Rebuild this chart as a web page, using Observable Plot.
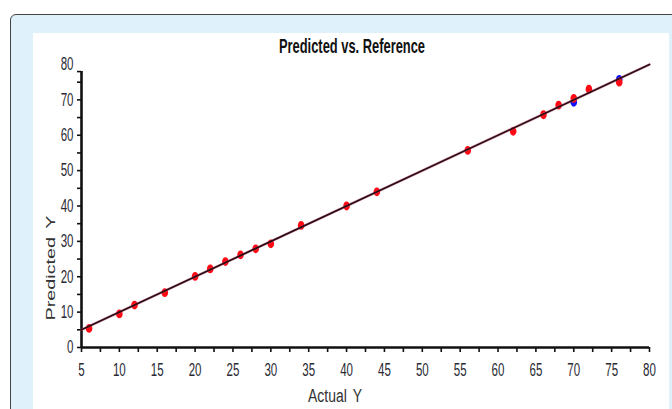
<!DOCTYPE html>
<html><head><meta charset="utf-8">
<script src="https://cdn.jsdelivr.net/npm/d3@7"></script>
<script src="https://cdn.jsdelivr.net/npm/@observablehq/plot@0.6"></script>
<style>
body{margin:0;background:#fff;width:672px;height:409px;overflow:hidden;position:relative;font-family:"Liberation Sans",Arial,sans-serif}
#frame{position:absolute;left:10px;top:14px;width:680px;height:420px;border:1.5px solid #444;border-radius:6px;background:#dff1fb;box-sizing:border-box}
#inner{position:absolute;left:33px;top:33px;width:636px;height:380px;background:#fff}
#chart{position:absolute;left:33px;top:33px}
.lbl{position:absolute;white-space:nowrap;font-family:"Liberation Sans",Arial,sans-serif}
#title{left:352px;top:35px;font-weight:bold;font-size:21px;line-height:21px;color:#111}
#xlab{left:335px;top:387px;font-size:18px;line-height:18px;color:#333;word-spacing:3px}
#ylab{left:51px;top:268px;font-size:19px;line-height:19px;color:#333;word-spacing:3px}
</style></head><body>
<div id="frame"></div><div id="inner"></div>
<div id="chart"></div>
<div id="title" class="lbl">Predicted vs. Reference</div>
<div id="xlab" class="lbl">Actual Y</div>
<div id="ylab" class="lbl">Predicted Y</div>
<script>
const actualY    = [6, 10, 12, 16, 20, 22, 24, 26, 28, 30, 34, 40, 44, 56, 62, 66, 68, 70, 72, 76];
const predictedY = [5.4, 9.5, 12.0, 15.5, 20.1, 22.2, 24.3, 26.2, 27.9, 29.3, 34.5, 40.0, 44.0, 55.7, 61.1, 65.8, 68.5, 70.4, 73.0, 75.0];
const refX = [70, 76];
const refY = [69.3, 75.8];
const fitLine = {x: [5, 80], y: [5, 80]};
const xTicks = d3.range(5, 81, 5);
const xMinor = d3.range(7.5, 80, 5);
const yTicks = d3.range(0, 81, 10);
const yTickMarks = [0, 10, 20, 30, 40, 50, 60, 70, 78];
const yMinor = d3.range(5, 76, 10);

const pts = actualY.map((x, i) => ({x, y: predictedY[i]}));
const refs = refX.map((x, i) => ({x, y: refY[i]}));
const line = fitLine.x.map((x, i) => ({x, y: fitLine.y[i]}));

const ellipse = {
  draw(ctx, size) {
    const rx = 3.3, ry = 4.4, k = 0.5523;
    ctx.moveTo(rx, 0);
    ctx.bezierCurveTo(rx, ry * k, rx * k, ry, 0, ry);
    ctx.bezierCurveTo(-rx * k, ry, -rx, ry * k, -rx, 0);
    ctx.bezierCurveTo(-rx, -ry * k, -rx * k, -ry, 0, -ry);
    ctx.bezierCurveTo(rx * k, -ry, rx, -ry * k, rx, 0);
    ctx.closePath();
  }
};

const plot = Plot.plot({
  width: 636, height: 376,
  marginLeft: 48, marginRight: 20, marginTop: 31, marginBottom: 62,
  style: {background: "transparent", fontFamily: "Liberation Sans, Arial, sans-serif", fontSize: "18px", color: "#2a2a33"},
  x: {domain: [5, 80]},
  y: {domain: [0, 80]},
  marks: [
    Plot.axisX({ticks: xTicks, tickSize: 0, tickPadding: 16, tickFormat: d => d, label: null}),
    Plot.axisX({ticks: xTicks.concat(xMinor), tickSize: 5, strokeWidth: 1.6, stroke: "#111", tickFormat: () => "", label: null}),
    Plot.axisY({ticks: yTicks, tickSize: 0, tickPadding: 8, tickFormat: d => d, label: null}),
    Plot.axisY({ticks: yTickMarks.concat(yMinor), tickSize: 4, strokeWidth: 1.6, stroke: "#111", tickFormat: () => "", label: null}),
    Plot.ruleY([0], {x1: 5, x2: 80, stroke: "#111", strokeWidth: 2.6}),
    Plot.ruleX([5], {y1: 0, y2: 78, stroke: "#111", strokeWidth: 2.6}),
    Plot.dot(refs, {x: "x", y: "y", symbol: ellipse, fill: "#1010ff", stroke: "none"}),
    Plot.dot(pts, {x: "x", y: "y", symbol: ellipse, fill: "#ff0a14", stroke: "none"}),
    Plot.line(line, {x: "x", y: "y", stroke: "#c0506a", strokeWidth: 2.8, strokeOpacity: 0.45}),
    Plot.line(line, {x: "x", y: "y", stroke: "#2a0a14", strokeWidth: 1.7})
  ]
});
document.getElementById("chart").appendChild(plot);

// horizontally condensed tick labels, as in the reference
plot.querySelectorAll('g[aria-label$="tick label"] text').forEach(t => {
  const tr = t.getAttribute("transform");
  if (tr) {
    t.setAttribute("transform", tr + " scale(0.64,1)");
  } else {
    const x = +t.getAttribute("x") || 0, y = +t.getAttribute("y") || 0;
    t.removeAttribute("x"); t.removeAttribute("y");
    t.setAttribute("transform", `translate(${x},${y}) scale(0.64,1)`);
  }
});

function fit(el, targetW, extra) {
  const w = el.getBoundingClientRect().width;
  const s = targetW / w;
  el.style.transform = `translate(-50%,0) scaleX(${s})`;
}
fit(document.getElementById("title"), 146);
fit(document.getElementById("xlab"), 54);
const yl = document.getElementById("ylab");
const yw = yl.getBoundingClientRect().width;
yl.style.transform = `translate(-50%,-50%) scaleX(0.65) rotate(-90deg) scaleX(${105 / yw})`;
</script>
</body></html>
